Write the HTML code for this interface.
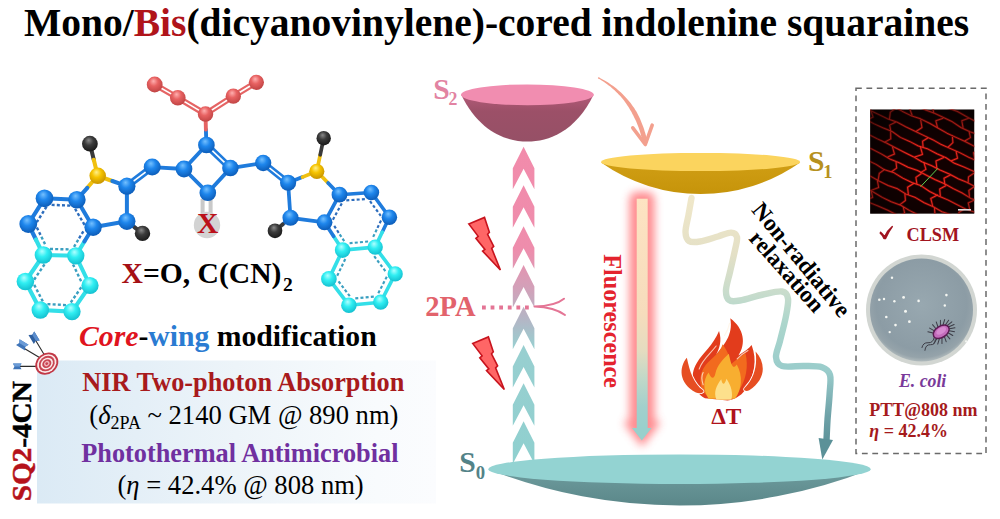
<!DOCTYPE html>
<html><head><meta charset="utf-8"><title>SQ</title>
<style>
html,body{margin:0;padding:0;background:#fff;width:1000px;height:519px;overflow:hidden}
svg{display:block}
text{font-family:"Liberation Serif",serif}
</style></head><body>
<svg width="1000" height="519" viewBox="0 0 1000 519">
<defs><radialGradient id="gb" cx="0.45" cy="0.38" r="0.62" fx="0.42" fy="0.28"><stop offset="0" stop-color="#74c0ff"/><stop offset="0.45" stop-color="#1e86ec"/><stop offset="1" stop-color="#0c5cb8"/></radialGradient><radialGradient id="gc" cx="0.45" cy="0.38" r="0.62" fx="0.42" fy="0.28"><stop offset="0" stop-color="#b0ffff"/><stop offset="0.45" stop-color="#30eef2"/><stop offset="1" stop-color="#14c0d0"/></radialGradient><radialGradient id="gr" cx="0.45" cy="0.38" r="0.62" fx="0.42" fy="0.28"><stop offset="0" stop-color="#ffb0b0"/><stop offset="0.45" stop-color="#e86262"/><stop offset="1" stop-color="#c04444"/></radialGradient><radialGradient id="gy" cx="0.45" cy="0.38" r="0.62" fx="0.42" fy="0.28"><stop offset="0" stop-color="#fff08a"/><stop offset="0.45" stop-color="#f6c400"/><stop offset="1" stop-color="#c89400"/></radialGradient><radialGradient id="gk" cx="0.45" cy="0.38" r="0.62" fx="0.42" fy="0.28"><stop offset="0" stop-color="#8a8a8a"/><stop offset="0.45" stop-color="#3c3c3c"/><stop offset="1" stop-color="#1a1a1a"/></radialGradient>
<linearGradient id="boxg" x1="0" y1="0" x2="1" y2="0"><stop offset="0" stop-color="#dbeaf5"/><stop offset="0.5" stop-color="#edf4f9"/><stop offset="0.85" stop-color="#f8fbfd"/><stop offset="1" stop-color="#fbfcfe"/></linearGradient>
<linearGradient id="chev" gradientUnits="userSpaceOnUse" x1="0" y1="140" x2="0" y2="470"><stop offset="0" stop-color="#f28bab"/><stop offset="0.33" stop-color="#ee8dac"/><stop offset="0.45" stop-color="#d2a1b9"/><stop offset="0.54" stop-color="#b5b5c5"/><stop offset="0.63" stop-color="#98cfd0"/><stop offset="1" stop-color="#8fd0cf"/></linearGradient>
<linearGradient id="s2body" x1="0" y1="0" x2="0" y2="1"><stop offset="0" stop-color="#b25a78"/><stop offset="0.35" stop-color="#9c5068"/><stop offset="1" stop-color="#965066"/></linearGradient>
<linearGradient id="s1body" x1="0" y1="0" x2="0" y2="1"><stop offset="0" stop-color="#d09e14"/><stop offset="1" stop-color="#c6940a"/></linearGradient>
<linearGradient id="s0body" x1="0" y1="0" x2="0" y2="1"><stop offset="0" stop-color="#6e9c9e"/><stop offset="1" stop-color="#5b8789"/></linearGradient>
<linearGradient id="fluo" gradientUnits="userSpaceOnUse" x1="0" y1="198" x2="0" y2="430"><stop offset="0" stop-color="#fde3c2"/><stop offset="0.5" stop-color="#f6dcbc"/><stop offset="0.66" stop-color="#e4dcc0"/><stop offset="0.78" stop-color="#c0d8c8"/><stop offset="0.9" stop-color="#a2d0cc"/><stop offset="1" stop-color="#98d0cc"/></linearGradient>
<linearGradient id="wave" gradientUnits="userSpaceOnUse" x1="0" y1="200" x2="0" y2="445"><stop offset="0" stop-color="#efe7c9"/><stop offset="0.22" stop-color="#e4e0c6"/><stop offset="0.38" stop-color="#c8dccc"/><stop offset="0.5" stop-color="#acd6cc"/><stop offset="0.7" stop-color="#99cccb"/><stop offset="0.88" stop-color="#6fa2a8"/><stop offset="1" stop-color="#5b9198"/></linearGradient>
<filter id="glow" x="-1" y="-0.2" width="3" height="1.4"><feGaussianBlur stdDeviation="4.2"/></filter>
<clipPath id="clsmclip"><rect x="870.2" y="109.6" width="104" height="104"/></clipPath>
<pattern id="cells" width="30" height="20" patternUnits="userSpaceOnUse" patternTransform="translate(870,110) rotate(27)"><path d="M0,0.6 H30 M0,10.6 H30 M8,0.6 V10.6 M23,10.6 V20.6" stroke="#e41a1a" stroke-width="1.3" fill="none"/></pattern>
<radialGradient id="dish" cx="0.5" cy="0.45" r="0.55"><stop offset="0" stop-color="#98a8b0"/><stop offset="0.8" stop-color="#8c9ca5"/><stop offset="0.93" stop-color="#95a3aa"/><stop offset="1" stop-color="#b0babc"/></radialGradient>
<radialGradient id="vign" cx="0.58" cy="0.6" r="0.75"><stop offset="0.35" stop-color="#000" stop-opacity="0"/><stop offset="1" stop-color="#000" stop-opacity="0.6"/></radialGradient>
</defs>
<rect width="1000" height="519" fill="#fff"/>

<text x="24" y="35.6" font-size="39.5" font-weight="bold" fill="#000">Mono/<tspan fill="#b0141a">Bis</tspan>(dicyanovinylene)-cored indolenine squaraines</text>
<line x1="76.9" y1="199.7" x2="44.5" y2="198.3" stroke="#1f7bdc" stroke-width="4.09" stroke-linecap="round" />
<line x1="70.2" y1="205.6" x2="50.7" y2="204.8" stroke="#2c6cbc" stroke-width="2.41" stroke-dasharray="3 2.2" stroke-linecap="butt"/>
<line x1="44.5" y1="198.3" x2="28.3" y2="224.0" stroke="#1f7bdc" stroke-width="4.12" stroke-linecap="round" />
<line x1="46.5" y1="206.7" x2="36.8" y2="222.2" stroke="#2c6cbc" stroke-width="2.43" stroke-dasharray="3 2.2" stroke-linecap="butt"/>
<line x1="28.3" y1="224.0" x2="35.9" y2="239.5" stroke="#1f7bdc" stroke-width="4.13" stroke-linecap="round" /><line x1="35.9" y1="239.5" x2="43.4" y2="255.0" stroke="#33dfe8" stroke-width="4.12" stroke-linecap="round" />
<line x1="36.9" y1="227.5" x2="41.4" y2="236.8" stroke="#2c6cbc" stroke-width="2.43" stroke-dasharray="3 2.2" stroke-linecap="butt"/><line x1="41.4" y1="236.8" x2="46.0" y2="246.1" stroke="#3a9fc0" stroke-width="2.43" stroke-dasharray="3 2.2" stroke-linecap="butt"/>
<line x1="43.4" y1="255.0" x2="75.8" y2="255.8" stroke="#33dfe8" stroke-width="4.09" stroke-linecap="round" />
<line x1="50.0" y1="249.0" x2="69.5" y2="249.4" stroke="#3a9fc0" stroke-width="2.41" stroke-dasharray="3 2.2" stroke-linecap="butt"/>
<line x1="75.8" y1="255.8" x2="84.4" y2="241.5" stroke="#33dfe8" stroke-width="4.06" stroke-linecap="round" /><line x1="84.4" y1="241.5" x2="93.1" y2="227.2" stroke="#1f7bdc" stroke-width="4.04" stroke-linecap="round" />
<line x1="74.0" y1="246.9" x2="79.1" y2="238.3" stroke="#3a9fc0" stroke-width="2.4" stroke-dasharray="3 2.2" stroke-linecap="butt"/><line x1="79.1" y1="238.3" x2="84.3" y2="229.7" stroke="#2c6cbc" stroke-width="2.39" stroke-dasharray="3 2.2" stroke-linecap="butt"/>
<line x1="93.1" y1="227.2" x2="76.9" y2="199.7" stroke="#1f7bdc" stroke-width="4.05" stroke-linecap="round" />
<line x1="84.5" y1="224.8" x2="74.8" y2="208.3" stroke="#2c6cbc" stroke-width="2.39" stroke-dasharray="3 2.2" stroke-linecap="butt"/>
<line x1="75.8" y1="255.8" x2="90.0" y2="285.5" stroke="#33dfe8" stroke-width="4.05" stroke-linecap="round" />
<line x1="73.0" y1="264.4" x2="81.6" y2="282.2" stroke="#3a9fc0" stroke-width="2.4" stroke-dasharray="3 2.2" stroke-linecap="butt"/>
<line x1="90.0" y1="285.5" x2="72.0" y2="311.6" stroke="#33dfe8" stroke-width="4.06" stroke-linecap="round" />
<line x1="81.3" y1="287.2" x2="70.5" y2="302.9" stroke="#3a9fc0" stroke-width="2.4" stroke-dasharray="3 2.2" stroke-linecap="butt"/>
<line x1="72.0" y1="311.6" x2="40.3" y2="310.0" stroke="#33dfe8" stroke-width="4.09" stroke-linecap="round" />
<line x1="66.0" y1="305.1" x2="47.0" y2="304.1" stroke="#3a9fc0" stroke-width="2.41" stroke-dasharray="3 2.2" stroke-linecap="butt"/>
<line x1="40.3" y1="310.0" x2="25.4" y2="281.5" stroke="#33dfe8" stroke-width="4.13" stroke-linecap="round" />
<line x1="42.8" y1="301.4" x2="33.9" y2="284.3" stroke="#3a9fc0" stroke-width="2.43" stroke-dasharray="3 2.2" stroke-linecap="butt"/>
<line x1="25.4" y1="281.5" x2="43.4" y2="255.0" stroke="#33dfe8" stroke-width="4.13" stroke-linecap="round" />
<line x1="34.1" y1="279.7" x2="44.9" y2="263.8" stroke="#3a9fc0" stroke-width="2.43" stroke-dasharray="3 2.2" stroke-linecap="butt"/>
<line x1="339.5" y1="194.7" x2="371.4" y2="192.5" stroke="#1f7bdc" stroke-width="3.64" stroke-linecap="round" />
<line x1="346.3" y1="200.4" x2="365.4" y2="199.1" stroke="#2c6cbc" stroke-width="2.15" stroke-dasharray="3 2.2" stroke-linecap="butt"/>
<line x1="371.4" y1="192.5" x2="389.4" y2="217.2" stroke="#1f7bdc" stroke-width="3.6" stroke-linecap="round" />
<line x1="370.0" y1="201.1" x2="380.8" y2="215.9" stroke="#2c6cbc" stroke-width="2.13" stroke-dasharray="3 2.2" stroke-linecap="butt"/>
<line x1="389.4" y1="217.2" x2="382.3" y2="232.1" stroke="#1f7bdc" stroke-width="3.59" stroke-linecap="round" /><line x1="382.3" y1="232.1" x2="375.2" y2="247.1" stroke="#33dfe8" stroke-width="3.61" stroke-linecap="round" />
<line x1="381.0" y1="220.5" x2="376.7" y2="229.5" stroke="#2c6cbc" stroke-width="2.13" stroke-dasharray="3 2.2" stroke-linecap="butt"/><line x1="376.7" y1="229.5" x2="372.4" y2="238.5" stroke="#3a9fc0" stroke-width="2.13" stroke-dasharray="3 2.2" stroke-linecap="butt"/>
<line x1="375.2" y1="247.1" x2="342.6" y2="250.1" stroke="#33dfe8" stroke-width="3.64" stroke-linecap="round" />
<line x1="368.1" y1="241.5" x2="348.6" y2="243.3" stroke="#3a9fc0" stroke-width="2.14" stroke-dasharray="3 2.2" stroke-linecap="butt"/>
<line x1="342.6" y1="250.1" x2="333.6" y2="236.2" stroke="#33dfe8" stroke-width="3.67" stroke-linecap="round" /><line x1="333.6" y1="236.2" x2="324.5" y2="222.3" stroke="#1f7bdc" stroke-width="3.68" stroke-linecap="round" />
<line x1="344.2" y1="241.2" x2="338.7" y2="232.8" stroke="#3a9fc0" stroke-width="2.16" stroke-dasharray="3 2.2" stroke-linecap="butt"/><line x1="338.7" y1="232.8" x2="333.3" y2="224.5" stroke="#2c6cbc" stroke-width="2.16" stroke-dasharray="3 2.2" stroke-linecap="butt"/>
<line x1="324.5" y1="222.3" x2="339.5" y2="194.7" stroke="#1f7bdc" stroke-width="3.68" stroke-linecap="round" />
<line x1="332.9" y1="219.7" x2="341.9" y2="203.2" stroke="#2c6cbc" stroke-width="2.16" stroke-dasharray="3 2.2" stroke-linecap="butt"/>
<line x1="375.2" y1="247.1" x2="395.2" y2="273.9" stroke="#33dfe8" stroke-width="3.6" stroke-linecap="round" />
<line x1="374.2" y1="256.2" x2="386.2" y2="272.2" stroke="#3a9fc0" stroke-width="2.12" stroke-dasharray="3 2.2" stroke-linecap="butt"/>
<line x1="395.2" y1="273.9" x2="380.7" y2="302.2" stroke="#33dfe8" stroke-width="3.59" stroke-linecap="round" />
<line x1="386.8" y1="276.7" x2="378.1" y2="293.7" stroke="#3a9fc0" stroke-width="2.12" stroke-dasharray="3 2.2" stroke-linecap="butt"/>
<line x1="380.7" y1="302.2" x2="348.9" y2="305.2" stroke="#33dfe8" stroke-width="3.63" stroke-linecap="round" />
<line x1="373.8" y1="296.6" x2="354.7" y2="298.4" stroke="#3a9fc0" stroke-width="2.14" stroke-dasharray="3 2.2" stroke-linecap="butt"/>
<line x1="348.9" y1="305.2" x2="328.9" y2="278.9" stroke="#33dfe8" stroke-width="3.67" stroke-linecap="round" />
<line x1="349.8" y1="296.2" x2="337.8" y2="280.4" stroke="#3a9fc0" stroke-width="2.16" stroke-dasharray="3 2.2" stroke-linecap="butt"/>
<line x1="328.9" y1="278.9" x2="342.6" y2="250.1" stroke="#33dfe8" stroke-width="3.67" stroke-linecap="round" />
<line x1="337.2" y1="275.8" x2="345.5" y2="258.5" stroke="#3a9fc0" stroke-width="2.16" stroke-dasharray="3 2.2" stroke-linecap="butt"/>
<line x1="89.9" y1="143.7" x2="93.8" y2="159.8" stroke="#3a3a3a" stroke-width="4.04" stroke-linecap="round" /><line x1="93.8" y1="159.8" x2="97.7" y2="175.8" stroke="#f0c010" stroke-width="4.03" stroke-linecap="round" />
<line x1="97.7" y1="175.8" x2="112.3" y2="181.0" stroke="#f0c010" stroke-width="4.02" stroke-linecap="round" /><line x1="112.3" y1="181.0" x2="126.9" y2="186.2" stroke="#1f7bdc" stroke-width="4.0" stroke-linecap="round" />
<line x1="97.7" y1="175.8" x2="87.3" y2="187.8" stroke="#f0c010" stroke-width="4.04" stroke-linecap="round" /><line x1="87.3" y1="187.8" x2="76.9" y2="199.7" stroke="#1f7bdc" stroke-width="4.05" stroke-linecap="round" />
<line x1="126.9" y1="186.2" x2="126.9" y2="221.3" stroke="#1f7bdc" stroke-width="3.99" stroke-linecap="round" />
<line x1="126.9" y1="221.3" x2="93.1" y2="227.2" stroke="#1f7bdc" stroke-width="4.01" stroke-linecap="round" />
<line x1="126.9" y1="221.3" x2="134.7" y2="227.4" stroke="#1f7bdc" stroke-width="3.98" stroke-linecap="round" /><line x1="134.7" y1="227.4" x2="142.5" y2="233.4" stroke="#3a3a3a" stroke-width="3.97" stroke-linecap="round" />
<line x1="128.2" y1="187.9" x2="153.5" y2="168.8" stroke="#1f7bdc" stroke-width="2.64" stroke-linecap="round" />
<line x1="125.6" y1="184.5" x2="150.9" y2="165.4" stroke="#1f7bdc" stroke-width="2.65" stroke-linecap="round" />
<line x1="152.2" y1="167.1" x2="184.0" y2="169.0" stroke="#1f7bdc" stroke-width="3.92" stroke-linecap="round" />
<line x1="184.0" y1="169.0" x2="206.4" y2="145.0" stroke="#1f7bdc" stroke-width="3.88" stroke-linecap="round" />
<line x1="204.9" y1="146.5" x2="228.9" y2="169.6" stroke="#1f7bdc" stroke-width="2.57" stroke-linecap="round" />
<line x1="207.9" y1="143.5" x2="231.9" y2="166.6" stroke="#1f7bdc" stroke-width="2.56" stroke-linecap="round" />
<line x1="230.4" y1="168.1" x2="207.8" y2="192.8" stroke="#1f7bdc" stroke-width="3.85" stroke-linecap="round" />
<line x1="207.8" y1="192.8" x2="184.0" y2="169.0" stroke="#1f7bdc" stroke-width="3.88" stroke-linecap="round" />
<line x1="206.4" y1="145.0" x2="205.9" y2="129.6" stroke="#1f7bdc" stroke-width="3.87" stroke-linecap="round" /><line x1="205.9" y1="129.6" x2="205.5" y2="114.1" stroke="#e56464" stroke-width="3.87" stroke-linecap="round" />
<line x1="206.5" y1="112.5" x2="178.8" y2="96.1" stroke="#e56464" stroke-width="2.19" stroke-linecap="round" />
<line x1="204.5" y1="115.7" x2="176.8" y2="99.3" stroke="#e56464" stroke-width="2.19" stroke-linecap="round" />
<line x1="178.7" y1="96.1" x2="155.6" y2="82.9" stroke="#e56464" stroke-width="2.21" stroke-linecap="round" />
<line x1="176.9" y1="99.3" x2="153.8" y2="86.1" stroke="#e56464" stroke-width="2.22" stroke-linecap="round" />
<line x1="206.5" y1="115.7" x2="234.3" y2="97.8" stroke="#e56464" stroke-width="2.17" stroke-linecap="round" />
<line x1="204.5" y1="112.5" x2="232.3" y2="94.6" stroke="#e56464" stroke-width="2.17" stroke-linecap="round" />
<line x1="234.3" y1="97.8" x2="257.4" y2="83.9" stroke="#e56464" stroke-width="2.15" stroke-linecap="round" />
<line x1="232.3" y1="94.6" x2="255.4" y2="80.7" stroke="#e56464" stroke-width="2.15" stroke-linecap="round" />
<line x1="230.4" y1="168.1" x2="263.2" y2="163.0" stroke="#1f7bdc" stroke-width="3.81" stroke-linecap="round" />
<line x1="261.9" y1="164.6" x2="286.8" y2="184.4" stroke="#1f7bdc" stroke-width="2.51" stroke-linecap="round" />
<line x1="264.5" y1="161.4" x2="289.4" y2="181.2" stroke="#1f7bdc" stroke-width="2.51" stroke-linecap="round" />
<line x1="288.1" y1="182.8" x2="302.5" y2="177.1" stroke="#1f7bdc" stroke-width="3.73" stroke-linecap="round" /><line x1="302.5" y1="177.1" x2="316.8" y2="171.3" stroke="#f0c010" stroke-width="3.71" stroke-linecap="round" />
<line x1="316.8" y1="171.3" x2="320.2" y2="154.8" stroke="#f0c010" stroke-width="3.7" stroke-linecap="round" /><line x1="320.2" y1="154.8" x2="323.7" y2="138.2" stroke="#3a3a3a" stroke-width="3.69" stroke-linecap="round" />
<line x1="316.8" y1="171.3" x2="328.1" y2="183.0" stroke="#f0c010" stroke-width="3.69" stroke-linecap="round" /><line x1="328.1" y1="183.0" x2="339.5" y2="194.7" stroke="#1f7bdc" stroke-width="3.67" stroke-linecap="round" />
<line x1="288.1" y1="182.8" x2="290.5" y2="217.8" stroke="#1f7bdc" stroke-width="3.74" stroke-linecap="round" />
<line x1="290.5" y1="217.8" x2="324.5" y2="222.3" stroke="#1f7bdc" stroke-width="3.71" stroke-linecap="round" />
<line x1="290.5" y1="217.8" x2="282.8" y2="224.3" stroke="#1f7bdc" stroke-width="3.74" stroke-linecap="round" /><line x1="282.8" y1="224.3" x2="275.0" y2="230.8" stroke="#3a3a3a" stroke-width="3.76" stroke-linecap="round" />
<rect x="200.6" y="199" width="4" height="14" fill="#c9c9c9"/><rect x="208.6" y="199" width="4" height="14" fill="#c9c9c9"/>
<circle cx="207" cy="225" r="13.2" fill="#d3d3d3"/>
<text x="207.6" y="233.4" font-size="29.6" font-weight="bold" fill="#bb111a" text-anchor="middle">X</text>
<circle cx="89.9" cy="143.7" r="7.88" fill="url(#gk)"/>
<circle cx="97.7" cy="175.8" r="8.27" fill="url(#gy)"/>
<circle cx="126.9" cy="186.2" r="8.59" fill="url(#gb)"/>
<circle cx="126.9" cy="221.3" r="8.59" fill="url(#gb)"/>
<circle cx="142.5" cy="233.4" r="7.72" fill="url(#gk)"/>
<circle cx="93.1" cy="227.2" r="8.70" fill="url(#gb)"/>
<circle cx="76.9" cy="199.7" r="8.75" fill="url(#gb)"/>
<circle cx="44.5" cy="198.3" r="8.86" fill="url(#gb)"/>
<circle cx="28.3" cy="224" r="8.91" fill="url(#gb)"/>
<circle cx="43.4" cy="255" r="8.75" fill="url(#gc)"/>
<circle cx="75.8" cy="255.8" r="8.65" fill="url(#gc)"/>
<circle cx="90" cy="285.5" r="8.60" fill="url(#gc)"/>
<circle cx="72" cy="311.6" r="8.66" fill="url(#gc)"/>
<circle cx="40.3" cy="310" r="8.76" fill="url(#gc)"/>
<circle cx="25.4" cy="281.5" r="8.81" fill="url(#gc)"/>
<circle cx="152.2" cy="167.1" r="8.50" fill="url(#gb)"/>
<circle cx="206.4" cy="145.0" r="8.33" fill="url(#gb)"/>
<circle cx="184.0" cy="169.0" r="8.40" fill="url(#gb)"/>
<circle cx="207.8" cy="192.8" r="8.32" fill="url(#gb)"/>
<circle cx="230.4" cy="168.1" r="8.25" fill="url(#gb)"/>
<circle cx="205.5" cy="114.1" r="7.74" fill="url(#gr)"/>
<circle cx="177.8" cy="97.7" r="7.82" fill="url(#gr)"/>
<circle cx="154.7" cy="84.5" r="7.89" fill="url(#gr)"/>
<circle cx="233.3" cy="96.2" r="7.65" fill="url(#gr)"/>
<circle cx="256.4" cy="82.3" r="7.58" fill="url(#gr)"/>
<circle cx="263.2" cy="163.0" r="8.14" fill="url(#gb)"/>
<circle cx="288.1" cy="182.8" r="8.06" fill="url(#gb)"/>
<circle cx="316.8" cy="171.3" r="7.59" fill="url(#gy)"/>
<circle cx="323.7" cy="138.2" r="7.19" fill="url(#gk)"/>
<circle cx="290.5" cy="217.8" r="8.05" fill="url(#gb)"/>
<circle cx="275.0" cy="230.8" r="7.33" fill="url(#gk)"/>
<circle cx="324.5" cy="222.3" r="7.94" fill="url(#gb)"/>
<circle cx="339.5" cy="194.7" r="7.89" fill="url(#gb)"/>
<circle cx="371.4" cy="192.5" r="7.79" fill="url(#gb)"/>
<circle cx="389.4" cy="217.2" r="7.73" fill="url(#gb)"/>
<circle cx="375.2" cy="247.1" r="7.68" fill="url(#gc)"/>
<circle cx="342.6" cy="250.1" r="7.79" fill="url(#gc)"/>
<circle cx="395.2" cy="273.9" r="7.62" fill="url(#gc)"/>
<circle cx="380.7" cy="302.2" r="7.67" fill="url(#gc)"/>
<circle cx="348.9" cy="305.2" r="7.77" fill="url(#gc)"/>
<circle cx="328.9" cy="278.9" r="7.83" fill="url(#gc)"/>
<text x="121.5" y="283.4" font-size="29.6" font-weight="bold" fill="#000"><tspan fill="#a51015">X</tspan>=O, C(CN)<tspan font-size="19.5" dx="1.5" dy="7.2">2</tspan></text>
<text x="79" y="346" font-size="29.7" font-weight="bold" fill="#000"><tspan font-style="italic" fill="#e0141e">Core</tspan>-<tspan fill="#2a7bd2">wing</tspan> modification</text>
<rect x="37" y="360.5" width="399" height="143" fill="url(#boxg)"/>
<text x="82.3" y="390.8" font-size="26.3" font-weight="bold" fill="#a81a1c">NIR Two-photon Absorption</text>
<text x="89.3" y="423.7" font-size="26.6" fill="#000">(<tspan font-style="italic">δ</tspan><tspan font-size="18" dy="5">2PA</tspan><tspan dy="-5"> ~ 2140 GM @ 890 nm)</tspan></text>
<text x="81.2" y="462" font-size="26.3" font-weight="bold" fill="#7030a0">Photothermal Antimicrobial</text>
<text x="117.5" y="494" font-size="26.6" fill="#000">(<tspan font-style="italic">η</tspan> = 42.4% @ 808 nm)</text>
<text transform="translate(30.8,501.2) rotate(-90)" font-size="28.3" font-weight="bold" fill="#000" stroke="#000" stroke-width="0.5" textLength="120" lengthAdjust="spacingAndGlyphs"><tspan fill="#b5121b" stroke="#b5121b">SQ2</tspan>-4CN</text>
<g>
<g stroke="#2b2b2b" stroke-width="1.1" stroke-linecap="round"><line x1="16" y1="366.4" x2="40" y2="366.4"/><line x1="21" y1="346.5" x2="42" y2="359"/><line x1="34.5" y1="338.5" x2="45" y2="356"/></g>
<g transform="translate(17.5,366.4)"><path d="M-4.5,-2.8 L4,-2.8 L2.5,0 L4,2.8 L-4.5,2.8 L-3,0 Z" fill="#3f74b8"/><path d="M-4.5,-2.8 L4,-2.8 L2.5,0 L-3,0 Z" fill="#6b9bd6"/></g>
<g transform="translate(22.5,345) rotate(31)"><path d="M-5.5,-3.4 L5,-3.4 L3.2,0 L5,3.4 L-5.5,3.4 L-3.8,0 Z" fill="#3f74b8"/><path d="M-5.5,-3.4 L5,-3.4 L3.2,0 L-3.8,0 Z" fill="#6b9bd6"/></g>
<g transform="translate(34.2,338) rotate(59)"><path d="M-5.5,-3.4 L5,-3.4 L3.2,0 L5,3.4 L-5.5,3.4 L-3.8,0 Z" fill="#2f5f9f"/><path d="M-5.5,-3.4 L5,-3.4 L3.2,0 L-3.8,0 Z" fill="#5a8ccc"/></g>
<g transform="translate(46.8,363.6) rotate(-40)">
<ellipse rx="12.3" ry="10.3" fill="#c23846"/><ellipse rx="10.4" ry="8.6" fill="#fbeaea"/><ellipse rx="8.6" ry="7.1" fill="#c84552"/>
<ellipse rx="6.6" ry="5.4" fill="#fbeaea"/><ellipse rx="4.9" ry="4" fill="#c84552"/><ellipse rx="2.9" ry="2.4" fill="#f0b2ba"/><ellipse rx="1.5" ry="1.3" fill="#c84552"/></g>
</g>
<polygon points="523.6,146.7 534.4,168.2 534.4,189.2 523.6,168.7 512.8000000000001,189.2 512.8000000000001,168.2" fill="url(#chev)"/>
<polygon points="523.6,185.3 534.4,206.8 534.4,227.8 523.6,207.3 512.8000000000001,227.8 512.8000000000001,206.8" fill="url(#chev)"/>
<polygon points="523.6,226.2 534.4,247.7 534.4,268.7 523.6,248.2 512.8000000000001,268.7 512.8000000000001,247.7" fill="url(#chev)"/>
<polygon points="523.6,265.0 534.4,286.5 534.4,307.5 523.6,287.0 512.8000000000001,307.5 512.8000000000001,286.5" fill="url(#chev)"/>
<polygon points="523.6,306.8 534.4,328.3 534.4,349.3 523.6,328.8 512.8000000000001,349.3 512.8000000000001,328.3" fill="url(#chev)"/>
<polygon points="523.6,345.0 534.4,366.5 534.4,387.5 523.6,367.0 512.8000000000001,387.5 512.8000000000001,366.5" fill="url(#chev)"/>
<polygon points="523.6,383.2 534.4,404.7 534.4,425.7 523.6,405.2 512.8000000000001,425.7 512.8000000000001,404.7" fill="url(#chev)"/>
<polygon points="523.6,421.3 534.4,442.8 534.4,463.8 523.6,443.3 512.8000000000001,463.8 512.8000000000001,442.8" fill="url(#chev)"/>
<path d="M461.2,94.8 C479.5,132 506,141.6 527.4,141.6 C548.8,141.6 575.3,132 593.6,94.8 Z" fill="url(#s2body)"/>
<ellipse cx="527.4" cy="94.8" rx="66.4" ry="10.4" fill="#f18db0"/>
<text x="433.3" y="99.3" font-size="29.6" font-weight="bold" fill="#e283a2">S<tspan font-size="17.8" dx="-1.2" dy="6">2</tspan></text>
<polygon points="598.4,78.5 600.2,79.6 602.0,80.7 603.7,81.8 605.4,83.0 607.1,84.2 608.7,85.4 610.3,86.6 611.8,87.9 613.3,89.2 614.8,90.5 616.2,91.9 617.6,93.3 618.9,94.7 620.3,96.1 621.5,97.6 622.8,99.1 624.0,100.6 625.2,102.2 626.3,103.8 627.4,105.4 628.5,107.0 629.5,108.7 630.5,110.4 631.5,112.1 632.4,113.9 633.3,115.6 634.2,117.4 635.1,119.2 636.0,121.1 636.8,123.0 637.6,124.9 638.3,126.8 639.0,128.8 639.7,130.8 640.3,132.8 640.9,134.9 641.5,137.0 642.1,139.1 642.6,141.3 643.0,143.5 647.6,142.5 647.1,140.3 646.5,138.0 646.0,135.8 645.4,133.6 644.7,131.5 644.1,129.3 643.4,127.3 642.6,125.2 641.8,123.2 641.0,121.2 640.2,119.2 639.3,117.3 638.4,115.4 637.4,113.5 636.4,111.6 635.3,109.9 634.2,108.1 633.0,106.4 631.8,104.7 630.6,103.1 629.3,101.5 628.0,99.9 626.7,98.4 625.3,96.9 623.9,95.4 622.5,94.0 621.0,92.6 619.5,91.2 618.0,89.9 616.4,88.6 614.8,87.3 613.2,86.1 611.5,84.9 609.8,83.7 608.1,82.6 606.4,81.5 604.6,80.5 602.7,79.4 600.9,78.4 599.0,77.5" fill="#f3a08e"/>
<circle cx="598.7" cy="78" r="0.8" fill="#f3a08e"/>
<path d="M632.8,127.8 L645.3,144.5 L652.2,125.2" fill="none" stroke="#f3a08e" stroke-width="3.6" stroke-linecap="round" stroke-linejoin="round"/>
<path d="M601,162.5 A173.2,173.2 0 0 0 800.2,162.5 Z" fill="url(#s1body)"/>
<ellipse cx="700.6" cy="162" rx="99.6" ry="9.1" fill="#fbd45e"/>
<text x="808" y="171.4" font-size="29.6" font-weight="bold" fill="#b6911e">S<tspan font-size="18.4" dx="-1.1" dy="6.3">1</tspan></text>
<path d="M488.2,469.2 A522.5,522.5 0 0 0 870.9,469.2 Z" fill="url(#s0body)"/>
<ellipse cx="679.5" cy="469.2" rx="191.3" ry="14.8" fill="#93d3d2"/>
<text x="459.3" y="472.4" font-size="29.6" font-weight="bold" fill="#538388">S<tspan font-size="18.8" dy="6.1">0</tspan></text>
<polygon points="468.8,223.9 484.5,217.4 489.4,232.2 487.6,234.3 493.7,246.4 491.7,248.4 500.4,270 482.6,251.1 484.9,249.4 475.9,238.3 478.2,236.3" fill="#ff6666" stroke="#c8141e" stroke-width="1.6" stroke-linejoin="miter"/>
<polygon transform="translate(3.9,119.5)" points="468.8,223.9 484.5,217.4 489.4,232.2 487.6,234.3 493.7,246.4 491.7,248.4 500.4,270 482.6,251.1 484.9,249.4 475.9,238.3 478.2,236.3" fill="#ff6666" stroke="#c8141e" stroke-width="1.6"/>
<text x="425.3" y="315.7" font-size="28.6" font-weight="bold" fill="#e2636c">2PA</text>
<line x1="482" y1="307.5" x2="530" y2="307.5" stroke="#e47595" stroke-width="4" stroke-dasharray="3.8 4.8"/>
<path d="M534.5,306.5 C548,306.2 557,304.5 564,298.7 M534.5,306.5 C548,307 557,309 565,315" fill="none" stroke="#e47595" stroke-width="2" stroke-linecap="round"/>
<g filter="url(#glow)" opacity="0.8"><rect x="629.5" y="192" width="25" height="236" rx="7" fill="#ff6f74"/><polygon points="627,423 657,423 642,443" fill="#ff6f74" stroke="#ff6f74" stroke-width="5" stroke-linejoin="round"/></g>
<rect x="636.7" y="198.7" width="11" height="230" fill="url(#fluo)"/>
<polygon points="632,427.9 651.6,427.9 641.8,440.6" fill="#98d0cc"/>
<text transform="translate(604.3,254.2) rotate(90)" font-size="24.2" font-weight="bold" fill="#e4232e">Fluorescence</text>
<path d="M691.5,198 C691.0,200.8 689.5,209.3 688.5,215 C687.5,220.7 685.4,227.7 685.5,232 C685.6,236.3 686.6,239.4 689,241 C691.4,242.6 695.2,242.2 700,241.5 C704.8,240.8 712.8,238.0 718,236.5 C723.2,235.0 727.8,232.5 731,232.6 C734.2,232.7 736.3,234.1 737,237 C737.7,239.9 736.2,244.2 735,250 C733.8,255.8 731.5,265.3 730,272 C728.5,278.7 726.2,285.3 726,290 C725.8,294.7 726.7,298.2 729,300 C731.3,301.8 734.3,301.4 740,300.5 C745.7,299.6 756.0,296.0 763,294.5 C770.0,293.0 777.8,290.8 782,291.5 C786.2,292.2 787.3,294.4 788,298.5 C788.7,302.6 787.3,308.9 786,316 C784.7,323.1 781.7,334.2 780,341 C778.3,347.8 775.7,352.8 776,357 C776.3,361.2 777.3,364.5 782,366 C786.7,367.5 797.3,365.8 804,366 C810.7,366.2 817.7,365.8 822,367.3 C826.3,368.8 828.7,370.6 830,375 C831.3,379.4 830.0,386.5 829.6,394 C829.2,401.5 828.0,412.3 827.5,420 C827.0,427.7 826.7,436.7 826.5,440" fill="none" stroke="url(#wave)" stroke-width="6.4" stroke-linecap="round" stroke-linejoin="round"/>
<polygon points="818.6,438 833,440 822.3,459.5" fill="#5b9198"/>
<text transform="translate(750.8,210.5) rotate(50.5)" font-size="23.6" font-weight="bold" fill="#000">Non-radiative</text>
<text transform="translate(748,239) rotate(48.5)" font-size="23.2" font-weight="bold" fill="#000">relaxation</text>
<text x="711.2" y="424.4" font-size="23.8" font-weight="bold" fill="#b0121c" textLength="30.3" lengthAdjust="spacingAndGlyphs">ΔT</text>
<g transform="translate(676,315) scale(0.1809,0.1743)">
<path d="M160,478 C95,440 70,350 115,275 C150,215 205,175 238,92 C255,150 240,190 222,228 C260,175 318,118 300,18 C378,78 388,165 345,232 C375,212 405,192 418,172 C450,260 432,340 395,410 C372,455 330,485 285,490 Z" fill="#e23c1c"/>
<path d="M176,468 C125,425 120,345 165,285 C198,245 240,225 258,168 C292,222 304,250 294,292 C324,262 354,240 384,218 C402,300 386,368 352,428 C330,466 300,484 258,487 Z" fill="#f26a1e"/>
<path d="M180,480 C148,430 150,372 180,330 C196,372 212,366 218,334 C226,290 262,250 292,222 C306,294 316,314 336,284 C372,350 364,430 326,480 Z" fill="#f8ae30"/>
<path d="M224,486 C206,440 224,404 250,368 C257,404 268,404 279,366 C306,406 316,452 306,486 Z" fill="#fde08c"/>
<path d="M60,245 C15,300 15,390 110,445 C135,455 160,445 150,432 C95,390 75,320 60,245 Z" fill="#e64e22" stroke="#fff" stroke-width="9" paint-order="stroke"/>
<path d="M440,210 C500,280 495,370 405,432 C385,442 368,430 380,418 C435,360 450,290 440,210 Z" fill="#e64e22" stroke="#fff" stroke-width="9" paint-order="stroke"/>
<path d="M128,310 C145,255 190,222 222,178 M268,118 C284,92 292,70 296,48 M338,252 C356,232 374,218 398,204 M150,400 C140,370 140,350 150,330" stroke="#fff4e4" stroke-width="6" fill="none" stroke-linecap="round" opacity="0.75"/>
</g>
<rect x="856" y="88.3" width="130" height="365.3" fill="none" stroke="#6a6a6a" stroke-width="1.5" stroke-dasharray="5.8 4.6"/>
<rect x="870.2" y="109.6" width="104" height="104" fill="#120101"/>
<g clip-path="url(#clsmclip)"><g transform="translate(922,161.5) rotate(26)"><path d="M-80,-108.6 L-70,-107.6 L-60,-109.2 L-50,-107.8 L-40,-108.8 L-30,-109.1 L-20,-109.1 L-10,-108.8 L0,-107.9 L10,-109.0 L20,-108.3 L30,-108.2 L40,-108.7 L50,-108.3 L60,-109.2 L70,-109.2 L80,-109.0 M-59.6,-108.4 L-54.3,-102.6 L-59.7,-96.8 M-24.4,-108.4 L-20.5,-102.6 L-23.5,-96.8 M8.6,-108.4 L5.4,-102.6 L8.0,-96.8 M39.6,-108.4 L44.8,-102.6 L39.0,-96.8 M75.4,-108.4 L70.9,-102.6 L74.4,-96.8 M-80,-96.1 L-70,-97.0 L-60,-96.0 L-50,-97.6 L-40,-96.7 L-30,-96.3 L-20,-96.3 L-10,-97.1 L0,-97.1 L10,-96.8 L20,-96.3 L30,-97.6 L40,-97.6 L50,-97.3 L60,-96.5 L70,-97.6 L80,-96.4 M-70.7,-96.8 L-66.9,-90.2 L-71.1,-83.6 M-38.0,-96.8 L-43.8,-90.2 L-38.5,-83.6 M-5.9,-96.8 L-2.7,-90.2 L-5.1,-83.6 M21.4,-96.8 L17.2,-90.2 L22.6,-83.6 M52.3,-96.8 L48.0,-90.2 L52.5,-83.6 M-80,-83.1 L-70,-83.0 L-60,-84.0 L-50,-83.8 L-40,-83.9 L-30,-82.9 L-20,-82.8 L-10,-84.3 L0,-84.2 L10,-84.1 L20,-84.1 L30,-83.7 L40,-83.5 L50,-84.1 L60,-84.5 L70,-83.8 L80,-83.9 M-63.0,-83.6 L-68.1,-78.3 L-63.0,-73.0 M-30.8,-83.6 L-35.2,-78.3 L-29.7,-73.0 M4.7,-83.6 L8.9,-78.3 L4.4,-73.0 M35.5,-83.6 L38.7,-78.3 L34.2,-73.0 M63.6,-83.6 L60.3,-78.3 L63.9,-73.0 M-80,-72.9 L-70,-73.0 L-60,-72.2 L-50,-72.8 L-40,-73.8 L-30,-73.6 L-20,-73.2 L-10,-72.8 L0,-72.2 L10,-72.8 L20,-73.1 L30,-73.7 L40,-73.0 L50,-72.2 L60,-73.1 L70,-73.4 L80,-73.7 M-57.5,-73.0 L-53.1,-66.5 L-56.9,-59.9 M-26.3,-73.0 L-32.2,-66.5 L-26.3,-59.9 M1.1,-73.0 L-4.2,-66.5 L0.5,-59.9 M33.5,-73.0 L28.5,-66.5 L32.8,-59.9 M63.2,-73.0 L59.1,-66.5 L62.4,-59.9 M-80,-59.9 L-70,-59.7 L-60,-59.7 L-50,-59.4 L-40,-59.4 L-30,-60.5 L-20,-60.4 L-10,-60.1 L0,-59.4 L10,-60.5 L20,-59.9 L30,-59.5 L40,-59.0 L50,-59.4 L60,-60.0 L70,-60.5 L80,-59.7 M-69.7,-59.9 L-63.8,-54.1 L-70.1,-48.3 M-41.5,-59.9 L-45.9,-54.1 L-42.0,-48.3 M-10.6,-59.9 L-15.1,-54.1 L-10.2,-48.3 M23.4,-59.9 L17.9,-54.1 L22.2,-48.3 M53.2,-59.9 L48.8,-54.1 L52.3,-48.3 M-80,-48.6 L-70,-47.8 L-60,-47.5 L-50,-48.5 L-40,-48.5 L-30,-47.5 L-20,-47.9 L-10,-48.9 L0,-49.0 L10,-49.0 L20,-47.6 L30,-47.8 L40,-49.0 L50,-47.7 L60,-47.5 L70,-48.0 L80,-48.6 M-63.5,-48.3 L-66.6,-42.7 L-62.6,-37.1 M-30.3,-48.3 L-34.9,-42.7 L-29.0,-37.1 M0.1,-48.3 L-5.4,-42.7 L-0.8,-37.1 M28.6,-48.3 L33.1,-42.7 L29.4,-37.1 M57.8,-48.3 L63.3,-42.7 L56.5,-37.1 M-80,-36.3 L-70,-36.8 L-60,-36.5 L-50,-37.0 L-40,-36.5 L-30,-36.4 L-20,-37.7 L-10,-37.7 L0,-37.0 L10,-36.4 L20,-36.6 L30,-36.9 L40,-36.6 L50,-37.7 L60,-37.7 L70,-36.8 L80,-37.7 M-78.1,-37.1 L-72.8,-30.5 L-79.3,-24.0 M-46.5,-37.1 L-50.1,-30.5 L-47.9,-24.0 M-19.6,-37.1 L-14.9,-30.5 L-18.8,-24.0 M15.6,-37.1 L19.5,-30.5 L17.0,-24.0 M47.6,-37.1 L42.5,-30.5 L47.5,-24.0 M79.0,-37.1 L83.5,-30.5 L78.2,-24.0 M-80,-23.3 L-70,-23.2 L-60,-23.2 L-50,-23.3 L-40,-24.5 L-30,-24.1 L-20,-24.1 L-10,-24.2 L0,-24.3 L10,-23.7 L20,-24.1 L30,-24.5 L40,-24.3 L50,-24.7 L60,-23.5 L70,-23.2 L80,-23.7 M-69.0,-24.0 L-63.4,-18.5 L-67.6,-13.1 M-40.8,-24.0 L-45.0,-18.5 L-40.9,-13.1 M-4.9,-24.0 L-8.4,-18.5 L-5.1,-13.1 M26.2,-24.0 L30.5,-18.5 L25.8,-13.1 M53.2,-24.0 L56.2,-18.5 L53.3,-13.1 M-80,-14.0 L-70,-13.4 L-60,-12.9 L-50,-13.1 L-40,-13.9 L-30,-12.2 L-20,-12.6 L-10,-12.3 L0,-13.8 L10,-13.5 L20,-13.9 L30,-12.6 L40,-13.5 L50,-13.8 L60,-13.2 L70,-12.4 L80,-12.5 M-72.2,-13.1 L-76.9,-6.6 L-72.2,-0.2 M-41.3,-13.1 L-38.0,-6.6 L-42.6,-0.2 M-8.4,-13.1 L-2.7,-6.6 L-9.1,-0.2 M17.8,-13.1 L12.3,-6.6 L16.5,-0.2 M52.3,-13.1 L48.5,-6.6 L51.2,-0.2 M78.4,-13.1 L84.2,-6.6 L77.7,-0.2 M-80,-0.1 L-70,-0.6 L-60,-0.9 L-50,-0.8 L-40,-1.0 L-30,-0.7 L-20,-0.5 L-10,-0.5 L0,0.3 L10,-0.5 L20,-0.2 L30,-0.7 L40,-0.4 L50,-1.0 L60,-0.6 L70,-1.0 L80,0.3 M-63.5,-0.2 L-68.0,5.4 L-64.2,11.0 M-33.0,-0.2 L-28.0,5.4 L-32.9,11.0 M1.9,-0.2 L7.0,5.4 L3.3,11.0 M31.3,-0.2 L27.1,5.4 L30.9,11.0 M57.9,-0.2 L54.8,5.4 L58.2,11.0 M-80,10.8 L-70,10.2 L-60,11.3 L-50,10.8 L-40,11.0 L-30,11.8 L-20,11.1 L-10,11.3 L0,10.1 L10,10.4 L20,10.6 L30,10.1 L40,10.7 L50,10.7 L60,11.8 L70,10.7 L80,10.1 M-53.5,11.0 L-57.6,17.0 L-55.0,23.0 M-23.7,11.0 L-19.9,17.0 L-23.2,23.0 M4.8,11.0 L1.5,17.0 L5.7,23.0 M32.2,11.0 L28.0,17.0 L31.6,23.0 M64.5,11.0 L59.7,17.0 L64.6,23.0 M-80,23.3 L-70,23.4 L-60,23.7 L-50,22.8 L-40,22.7 L-30,23.9 L-20,22.4 L-10,23.4 L0,23.3 L10,22.2 L20,23.6 L30,23.7 L40,23.2 L50,23.4 L60,23.6 L70,22.4 L80,23.1 M-64.9,23.0 L-70.3,29.4 L-64.6,35.8 M-29.9,23.0 L-33.2,29.4 L-31.3,35.8 M2.4,23.0 L-1.7,29.4 L2.3,35.8 M28.9,23.0 L24.1,29.4 L29.5,35.8 M59.8,23.0 L55.5,29.4 L58.5,35.8 M-80,36.5 L-70,35.1 L-60,35.9 L-50,36.3 L-40,35.8 L-30,36.4 L-20,36.4 L-10,35.3 L0,36.3 L10,35.3 L20,36.1 L30,35.7 L40,36.4 L50,35.1 L60,36.6 L70,35.4 L80,35.0 M-61.0,35.8 L-64.2,42.3 L-62.1,48.8 M-32.5,35.8 L-27.6,42.3 L-33.6,48.8 M-1.7,35.8 L2.2,42.3 L-1.1,48.8 M31.3,35.8 L35.1,42.3 L31.3,48.8 M61.9,35.8 L67.2,42.3 L63.4,48.8 M-80,48.4 L-70,48.0 L-60,48.7 L-50,48.4 L-40,48.0 L-30,48.8 L-20,49.7 L-10,49.7 L0,48.6 L10,49.5 L20,49.6 L30,48.0 L40,48.0 L50,49.2 L60,48.4 L70,48.5 L80,49.0 M-61.0,48.8 L-55.4,53.9 L-60.4,59.1 M-32.7,48.8 L-28.6,53.9 L-33.8,59.1 M2.8,48.8 L7.0,53.9 L3.4,59.1 M32.9,48.8 L36.9,53.9 L33.9,59.1 M58.9,48.8 L64.5,53.9 L57.8,59.1 M-80,59.5 L-70,59.8 L-60,58.7 L-50,58.9 L-40,58.9 L-30,60.0 L-20,59.3 L-10,58.8 L0,59.0 L10,58.7 L20,58.3 L30,58.4 L40,59.7 L50,58.7 L60,59.9 L70,58.6 L80,58.7 M-64.7,59.1 L-70.0,65.2 L-63.8,71.3 M-34.4,59.1 L-39.8,65.2 L-34.0,71.3 M0.7,59.1 L-4.4,65.2 L-0.6,71.3 M34.1,59.1 L38.9,65.2 L33.0,71.3 M68.8,59.1 L71.9,65.2 L70.0,71.3 M-80,71.3 L-70,71.1 L-60,71.0 L-50,71.8 L-40,72.2 L-30,70.9 L-20,71.6 L-10,71.0 L0,71.4 L10,71.1 L20,70.7 L30,70.7 L40,70.8 L50,72.1 L60,71.3 L70,70.8 L80,72.1 M-50.1,71.3 L-45.8,77.8 L-50.0,84.3 M-21.7,71.3 L-25.7,77.8 L-22.9,84.3 M6.7,71.3 L12.2,77.8 L5.8,84.3 M32.9,71.3 L37.1,77.8 L33.7,84.3 M61.0,71.3 L65.0,77.8 L59.7,84.3 M-80,85.1 L-70,83.6 L-60,84.3 L-50,84.5 L-40,85.0 L-30,83.8 L-20,83.9 L-10,83.9 L0,84.1 L10,84.2 L20,85.1 L30,84.9 L40,85.0 L50,83.4 L60,83.5 L70,84.7 L80,85.0 M-65.8,84.3 L-62.8,90.7 L-66.1,97.1 M-30.5,84.3 L-24.6,90.7 L-31.3,97.1 M-3.4,84.3 L-6.9,90.7 L-2.0,97.1 M23.6,84.3 L26.9,90.7 L24.5,97.1 M49.7,84.3 L46.0,90.7 L50.9,97.1 M-80,96.7 L-70,96.4 L-60,96.6 L-50,97.3 L-40,97.4 L-30,96.4 L-20,96.3 L-10,97.1 L0,97.2 L10,96.9 L20,96.6 L30,97.3 L40,96.2 L50,96.7 L60,97.0 L70,97.9 L80,97.3 M-53.5,97.1 L-48.9,102.6 L-53.3,108.2 M-27.2,97.1 L-22.1,102.6 L-27.8,108.2 M-1.0,97.1 L4.7,102.6 L-0.5,108.2 M25.8,97.1 L20.8,102.6 L27.1,108.2 M54.1,97.1 L49.0,102.6 L54.8,108.2 M-80,108.0 L-70,107.3 L-60,107.8 L-50,108.8 L-40,107.4 L-30,108.2 L-20,107.6 L-10,108.7 L0,107.6 L10,108.1 L20,107.8 L30,108.9 L40,107.5 L50,108.4 L60,108.4 L70,108.9 L80,108.2" stroke="#b01010" stroke-width="2.6" fill="none" stroke-linejoin="round" opacity="0.45"/><path d="M-80,-108.6 L-70,-107.6 L-60,-109.2 L-50,-107.8 L-40,-108.8 L-30,-109.1 L-20,-109.1 L-10,-108.8 L0,-107.9 L10,-109.0 L20,-108.3 L30,-108.2 L40,-108.7 L50,-108.3 L60,-109.2 L70,-109.2 L80,-109.0 M-59.6,-108.4 L-54.3,-102.6 L-59.7,-96.8 M-24.4,-108.4 L-20.5,-102.6 L-23.5,-96.8 M8.6,-108.4 L5.4,-102.6 L8.0,-96.8 M39.6,-108.4 L44.8,-102.6 L39.0,-96.8 M75.4,-108.4 L70.9,-102.6 L74.4,-96.8 M-80,-96.1 L-70,-97.0 L-60,-96.0 L-50,-97.6 L-40,-96.7 L-30,-96.3 L-20,-96.3 L-10,-97.1 L0,-97.1 L10,-96.8 L20,-96.3 L30,-97.6 L40,-97.6 L50,-97.3 L60,-96.5 L70,-97.6 L80,-96.4 M-70.7,-96.8 L-66.9,-90.2 L-71.1,-83.6 M-38.0,-96.8 L-43.8,-90.2 L-38.5,-83.6 M-5.9,-96.8 L-2.7,-90.2 L-5.1,-83.6 M21.4,-96.8 L17.2,-90.2 L22.6,-83.6 M52.3,-96.8 L48.0,-90.2 L52.5,-83.6 M-80,-83.1 L-70,-83.0 L-60,-84.0 L-50,-83.8 L-40,-83.9 L-30,-82.9 L-20,-82.8 L-10,-84.3 L0,-84.2 L10,-84.1 L20,-84.1 L30,-83.7 L40,-83.5 L50,-84.1 L60,-84.5 L70,-83.8 L80,-83.9 M-63.0,-83.6 L-68.1,-78.3 L-63.0,-73.0 M-30.8,-83.6 L-35.2,-78.3 L-29.7,-73.0 M4.7,-83.6 L8.9,-78.3 L4.4,-73.0 M35.5,-83.6 L38.7,-78.3 L34.2,-73.0 M63.6,-83.6 L60.3,-78.3 L63.9,-73.0 M-80,-72.9 L-70,-73.0 L-60,-72.2 L-50,-72.8 L-40,-73.8 L-30,-73.6 L-20,-73.2 L-10,-72.8 L0,-72.2 L10,-72.8 L20,-73.1 L30,-73.7 L40,-73.0 L50,-72.2 L60,-73.1 L70,-73.4 L80,-73.7 M-57.5,-73.0 L-53.1,-66.5 L-56.9,-59.9 M-26.3,-73.0 L-32.2,-66.5 L-26.3,-59.9 M1.1,-73.0 L-4.2,-66.5 L0.5,-59.9 M33.5,-73.0 L28.5,-66.5 L32.8,-59.9 M63.2,-73.0 L59.1,-66.5 L62.4,-59.9 M-80,-59.9 L-70,-59.7 L-60,-59.7 L-50,-59.4 L-40,-59.4 L-30,-60.5 L-20,-60.4 L-10,-60.1 L0,-59.4 L10,-60.5 L20,-59.9 L30,-59.5 L40,-59.0 L50,-59.4 L60,-60.0 L70,-60.5 L80,-59.7 M-69.7,-59.9 L-63.8,-54.1 L-70.1,-48.3 M-41.5,-59.9 L-45.9,-54.1 L-42.0,-48.3 M-10.6,-59.9 L-15.1,-54.1 L-10.2,-48.3 M23.4,-59.9 L17.9,-54.1 L22.2,-48.3 M53.2,-59.9 L48.8,-54.1 L52.3,-48.3 M-80,-48.6 L-70,-47.8 L-60,-47.5 L-50,-48.5 L-40,-48.5 L-30,-47.5 L-20,-47.9 L-10,-48.9 L0,-49.0 L10,-49.0 L20,-47.6 L30,-47.8 L40,-49.0 L50,-47.7 L60,-47.5 L70,-48.0 L80,-48.6 M-63.5,-48.3 L-66.6,-42.7 L-62.6,-37.1 M-30.3,-48.3 L-34.9,-42.7 L-29.0,-37.1 M0.1,-48.3 L-5.4,-42.7 L-0.8,-37.1 M28.6,-48.3 L33.1,-42.7 L29.4,-37.1 M57.8,-48.3 L63.3,-42.7 L56.5,-37.1 M-80,-36.3 L-70,-36.8 L-60,-36.5 L-50,-37.0 L-40,-36.5 L-30,-36.4 L-20,-37.7 L-10,-37.7 L0,-37.0 L10,-36.4 L20,-36.6 L30,-36.9 L40,-36.6 L50,-37.7 L60,-37.7 L70,-36.8 L80,-37.7 M-78.1,-37.1 L-72.8,-30.5 L-79.3,-24.0 M-46.5,-37.1 L-50.1,-30.5 L-47.9,-24.0 M-19.6,-37.1 L-14.9,-30.5 L-18.8,-24.0 M15.6,-37.1 L19.5,-30.5 L17.0,-24.0 M47.6,-37.1 L42.5,-30.5 L47.5,-24.0 M79.0,-37.1 L83.5,-30.5 L78.2,-24.0 M-80,-23.3 L-70,-23.2 L-60,-23.2 L-50,-23.3 L-40,-24.5 L-30,-24.1 L-20,-24.1 L-10,-24.2 L0,-24.3 L10,-23.7 L20,-24.1 L30,-24.5 L40,-24.3 L50,-24.7 L60,-23.5 L70,-23.2 L80,-23.7 M-69.0,-24.0 L-63.4,-18.5 L-67.6,-13.1 M-40.8,-24.0 L-45.0,-18.5 L-40.9,-13.1 M-4.9,-24.0 L-8.4,-18.5 L-5.1,-13.1 M26.2,-24.0 L30.5,-18.5 L25.8,-13.1 M53.2,-24.0 L56.2,-18.5 L53.3,-13.1 M-80,-14.0 L-70,-13.4 L-60,-12.9 L-50,-13.1 L-40,-13.9 L-30,-12.2 L-20,-12.6 L-10,-12.3 L0,-13.8 L10,-13.5 L20,-13.9 L30,-12.6 L40,-13.5 L50,-13.8 L60,-13.2 L70,-12.4 L80,-12.5 M-72.2,-13.1 L-76.9,-6.6 L-72.2,-0.2 M-41.3,-13.1 L-38.0,-6.6 L-42.6,-0.2 M-8.4,-13.1 L-2.7,-6.6 L-9.1,-0.2 M17.8,-13.1 L12.3,-6.6 L16.5,-0.2 M52.3,-13.1 L48.5,-6.6 L51.2,-0.2 M78.4,-13.1 L84.2,-6.6 L77.7,-0.2 M-80,-0.1 L-70,-0.6 L-60,-0.9 L-50,-0.8 L-40,-1.0 L-30,-0.7 L-20,-0.5 L-10,-0.5 L0,0.3 L10,-0.5 L20,-0.2 L30,-0.7 L40,-0.4 L50,-1.0 L60,-0.6 L70,-1.0 L80,0.3 M-63.5,-0.2 L-68.0,5.4 L-64.2,11.0 M-33.0,-0.2 L-28.0,5.4 L-32.9,11.0 M1.9,-0.2 L7.0,5.4 L3.3,11.0 M31.3,-0.2 L27.1,5.4 L30.9,11.0 M57.9,-0.2 L54.8,5.4 L58.2,11.0 M-80,10.8 L-70,10.2 L-60,11.3 L-50,10.8 L-40,11.0 L-30,11.8 L-20,11.1 L-10,11.3 L0,10.1 L10,10.4 L20,10.6 L30,10.1 L40,10.7 L50,10.7 L60,11.8 L70,10.7 L80,10.1 M-53.5,11.0 L-57.6,17.0 L-55.0,23.0 M-23.7,11.0 L-19.9,17.0 L-23.2,23.0 M4.8,11.0 L1.5,17.0 L5.7,23.0 M32.2,11.0 L28.0,17.0 L31.6,23.0 M64.5,11.0 L59.7,17.0 L64.6,23.0 M-80,23.3 L-70,23.4 L-60,23.7 L-50,22.8 L-40,22.7 L-30,23.9 L-20,22.4 L-10,23.4 L0,23.3 L10,22.2 L20,23.6 L30,23.7 L40,23.2 L50,23.4 L60,23.6 L70,22.4 L80,23.1 M-64.9,23.0 L-70.3,29.4 L-64.6,35.8 M-29.9,23.0 L-33.2,29.4 L-31.3,35.8 M2.4,23.0 L-1.7,29.4 L2.3,35.8 M28.9,23.0 L24.1,29.4 L29.5,35.8 M59.8,23.0 L55.5,29.4 L58.5,35.8 M-80,36.5 L-70,35.1 L-60,35.9 L-50,36.3 L-40,35.8 L-30,36.4 L-20,36.4 L-10,35.3 L0,36.3 L10,35.3 L20,36.1 L30,35.7 L40,36.4 L50,35.1 L60,36.6 L70,35.4 L80,35.0 M-61.0,35.8 L-64.2,42.3 L-62.1,48.8 M-32.5,35.8 L-27.6,42.3 L-33.6,48.8 M-1.7,35.8 L2.2,42.3 L-1.1,48.8 M31.3,35.8 L35.1,42.3 L31.3,48.8 M61.9,35.8 L67.2,42.3 L63.4,48.8 M-80,48.4 L-70,48.0 L-60,48.7 L-50,48.4 L-40,48.0 L-30,48.8 L-20,49.7 L-10,49.7 L0,48.6 L10,49.5 L20,49.6 L30,48.0 L40,48.0 L50,49.2 L60,48.4 L70,48.5 L80,49.0 M-61.0,48.8 L-55.4,53.9 L-60.4,59.1 M-32.7,48.8 L-28.6,53.9 L-33.8,59.1 M2.8,48.8 L7.0,53.9 L3.4,59.1 M32.9,48.8 L36.9,53.9 L33.9,59.1 M58.9,48.8 L64.5,53.9 L57.8,59.1 M-80,59.5 L-70,59.8 L-60,58.7 L-50,58.9 L-40,58.9 L-30,60.0 L-20,59.3 L-10,58.8 L0,59.0 L10,58.7 L20,58.3 L30,58.4 L40,59.7 L50,58.7 L60,59.9 L70,58.6 L80,58.7 M-64.7,59.1 L-70.0,65.2 L-63.8,71.3 M-34.4,59.1 L-39.8,65.2 L-34.0,71.3 M0.7,59.1 L-4.4,65.2 L-0.6,71.3 M34.1,59.1 L38.9,65.2 L33.0,71.3 M68.8,59.1 L71.9,65.2 L70.0,71.3 M-80,71.3 L-70,71.1 L-60,71.0 L-50,71.8 L-40,72.2 L-30,70.9 L-20,71.6 L-10,71.0 L0,71.4 L10,71.1 L20,70.7 L30,70.7 L40,70.8 L50,72.1 L60,71.3 L70,70.8 L80,72.1 M-50.1,71.3 L-45.8,77.8 L-50.0,84.3 M-21.7,71.3 L-25.7,77.8 L-22.9,84.3 M6.7,71.3 L12.2,77.8 L5.8,84.3 M32.9,71.3 L37.1,77.8 L33.7,84.3 M61.0,71.3 L65.0,77.8 L59.7,84.3 M-80,85.1 L-70,83.6 L-60,84.3 L-50,84.5 L-40,85.0 L-30,83.8 L-20,83.9 L-10,83.9 L0,84.1 L10,84.2 L20,85.1 L30,84.9 L40,85.0 L50,83.4 L60,83.5 L70,84.7 L80,85.0 M-65.8,84.3 L-62.8,90.7 L-66.1,97.1 M-30.5,84.3 L-24.6,90.7 L-31.3,97.1 M-3.4,84.3 L-6.9,90.7 L-2.0,97.1 M23.6,84.3 L26.9,90.7 L24.5,97.1 M49.7,84.3 L46.0,90.7 L50.9,97.1 M-80,96.7 L-70,96.4 L-60,96.6 L-50,97.3 L-40,97.4 L-30,96.4 L-20,96.3 L-10,97.1 L0,97.2 L10,96.9 L20,96.6 L30,97.3 L40,96.2 L50,96.7 L60,97.0 L70,97.9 L80,97.3 M-53.5,97.1 L-48.9,102.6 L-53.3,108.2 M-27.2,97.1 L-22.1,102.6 L-27.8,108.2 M-1.0,97.1 L4.7,102.6 L-0.5,108.2 M25.8,97.1 L20.8,102.6 L27.1,108.2 M54.1,97.1 L49.0,102.6 L54.8,108.2 M-80,108.0 L-70,107.3 L-60,107.8 L-50,108.8 L-40,107.4 L-30,108.2 L-20,107.6 L-10,108.7 L0,107.6 L10,108.1 L20,107.8 L30,108.9 L40,107.5 L50,108.4 L60,108.4 L70,108.9 L80,108.2" stroke="#f02a1e" stroke-width="1.05" fill="none" stroke-linejoin="round"/></g></g>
<rect x="870.2" y="109.6" width="104" height="104" fill="url(#vign)"/>
<line x1="920.5" y1="186.8" x2="937.9" y2="168.3" stroke="#5fd050" stroke-width="1"/>
<rect x="958" y="209" width="13" height="1.6" fill="#ddd"/>
<path d="M880.6,232.3 Q882.6,233.8 884.6,236.8 Q887.5,230.5 892.3,226.6 Q888.6,231.5 885.4,238.6 L884,238.6 Q882.6,235 880.3,233.2 Z" fill="#a01420" stroke="#a01420" stroke-width="1.5" stroke-linejoin="round"/>
<text x="906.5" y="240.8" font-size="18.2" font-weight="bold" fill="#a2141e">CLSM</text>
<circle cx="921.5" cy="310" r="55.5" fill="#d2d6d2"/>
<circle cx="921.5" cy="310" r="51.5" fill="url(#dish)"/>
<circle cx="892" cy="277.7" r="1.2" fill="#f4f6f2"/>
<circle cx="879.3" cy="299.7" r="1.3" fill="#f4f6f2"/>
<circle cx="884" cy="299" r="1.2" fill="#f4f6f2"/>
<circle cx="894.4" cy="301.3" r="1.2" fill="#f4f6f2"/>
<circle cx="903.6" cy="297.4" r="1.4" fill="#f4f6f2"/>
<circle cx="918.6" cy="300.9" r="1.3" fill="#f4f6f2"/>
<circle cx="946.4" cy="295.1" r="1.3" fill="#f4f6f2"/>
<circle cx="944.8" cy="305.5" r="1.2" fill="#f4f6f2"/>
<circle cx="905.5" cy="311.3" r="1.5" fill="#f4f6f2"/>
<circle cx="886.3" cy="317" r="1.3" fill="#f4f6f2"/>
<circle cx="909.4" cy="321.7" r="1.4" fill="#f4f6f2"/>
<circle cx="895.5" cy="325.1" r="1.3" fill="#f4f6f2"/>
<circle cx="889.7" cy="332.1" r="1.2" fill="#f4f6f2"/>
<circle cx="966" cy="341.3" r="1.1" fill="#f4f6f2"/>
<g transform="translate(941.2,331.8) rotate(-33)"><path d="M9.2,0.0 L14.8,0.9 M8.7,1.9 L13.7,4.2 M7.4,3.5 L11.2,7.2 M5.4,4.9 L7.7,9.4 M2.8,5.7 L3.4,10.7 M0.0,6.0 L-1.2,11.0 M-2.8,5.7 L-5.7,10.2 M-5.4,4.9 L-9.6,8.4 M-7.4,3.5 L-12.6,5.7 M-7.4,-3.5 L-11.2,-7.2 M-5.4,-4.9 L-7.7,-9.4 M-2.8,-5.7 L-3.4,-10.7 M-0.0,-6.0 L1.2,-11.0 M2.8,-5.7 L5.7,-10.2 M5.4,-4.9 L9.6,-8.4 M7.4,-3.5 L12.6,-5.7 M8.7,-1.9 L14.4,-2.6" stroke="#3c3c46" stroke-width="1.0" fill="none" stroke-linecap="round"/><path d="M-9,1 Q-13,5 -17,2 Q-21,-1 -25,3 M-9,3 Q-12,8 -16,5 Q-20,2 -24,7" stroke="#3c3c46" stroke-width="0.9" fill="none"/><ellipse rx="8.8" ry="5.6" fill="#c46cbc" stroke="#5a1c52" stroke-width="1.5"/><ellipse cx="0.5" cy="-0.8" rx="5.5" ry="3" fill="#d68ad0"/></g>
<text x="898.9" y="386.6" font-size="17.8" font-weight="bold" font-style="italic" fill="#7a3a9a">E. coli</text>
<text x="869.3" y="416.2" font-size="18" font-weight="bold" fill="#a51a1c">PTT@808 nm</text>
<text x="869.3" y="437.2" font-size="18" font-weight="bold" fill="#a51a1c"><tspan font-style="italic">η</tspan> = 42.4%</text>
</svg></body></html>
